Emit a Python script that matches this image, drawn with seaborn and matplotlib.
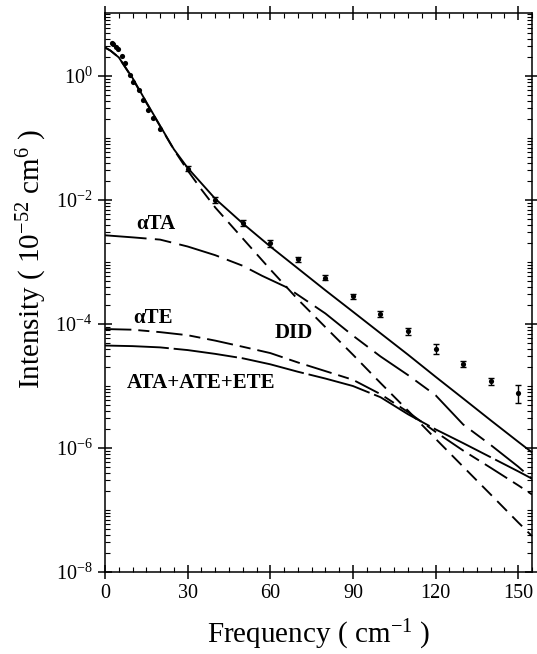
import matplotlib
matplotlib.use("Agg")
import matplotlib.pyplot as plt
import seaborn as sns
from matplotlib.ticker import FixedLocator, NullFormatter, LogFormatterSciNotation

# ---------------- data ----------------
total_x = [0, 2, 5, 10, 15, 20, 25, 30, 40, 50, 60, 70, 80, 90, 100, 110, 120, 130, 140, 150, 155]
total_y = [2.9, 2.57, 2.0, 0.93, 0.38, 0.158, 0.066, 0.033, 0.0105, 4.2e-3, 1.78e-3, 7.9e-4,
           3.5e-4, 1.58e-4, 7.1e-5, 3.2e-5, 1.41e-5, 6.3e-6, 2.8e-6, 1.26e-6, 8.5e-7]

did_x = [0, 2, 5, 10, 15, 20, 25, 30, 35, 40, 50, 60, 70, 80, 90, 100, 110, 120, 130, 140, 150, 155]
did_y = [2.88, 2.57, 2.0, 0.91, 0.37, 0.155, 0.065, 0.030, 0.0148, 7.6e-3, 2.4e-3, 7.6e-4,
         2.5e-4, 8.9e-5, 3.2e-5, 1.12e-5, 4.0e-6, 1.41e-6, 5.0e-7, 1.78e-7, 6.3e-8, 3.8e-8]

ata_alpha_x = [0, 10, 20, 30, 40, 50, 57, 66, 80, 90, 100, 110, 120, 130, 140, 150, 155]
ata_alpha_y = [2.7e-3, 2.5e-3, 2.3e-3, 1.78e-3, 1.29e-3, 8.7e-4, 6.0e-4, 3.9e-4, 1.48e-4,
               6.5e-5, 3.0e-5, 1.5e-5, 7.1e-6, 2.4e-6, 1.12e-6, 5.0e-7, 3.2e-7]

ate_alpha_x = [0, 10, 20, 30, 40, 50, 60, 70, 80, 90, 100, 110, 120, 130, 140, 150, 155]
ate_alpha_y = [8.3e-5, 8.1e-5, 7.4e-5, 6.6e-5, 5.4e-5, 4.3e-5, 3.4e-5, 2.4e-5, 1.74e-5,
               1.26e-5, 7.4e-6, 3.8e-6, 1.82e-6, 9.1e-7, 4.8e-7, 2.5e-7, 1.78e-7]

sum_x = [0, 10, 20, 30, 40, 50, 60, 70, 80, 90, 100, 110, 120, 130, 140, 150, 155]
sum_y = [4.5e-5, 4.4e-5, 4.2e-5, 3.8e-5, 3.3e-5, 2.8e-5, 2.24e-5, 1.7e-5, 1.32e-5, 1.0e-5,
         6.6e-6, 3.5e-6, 2.0e-6, 1.2e-6, 7.1e-7, 4.2e-7, 3.2e-7]

exp_low_x = [2.4, 3.0, 4.0, 4.9, 6.0, 7.3, 9.1, 10.3, 12.4, 13.9, 15.7, 17.5, 20.0]
exp_low_y = [3.47, 3.31, 2.95, 2.69, 2.09, 1.64, 1.04, 0.81, 0.59, 0.41, 0.28, 0.21, 0.14]

exp_x = [30, 40, 50, 60, 70, 80, 90, 100, 110, 120, 130, 140, 150]
exp_y = [3.2e-2, 1.0e-2, 4.3e-3, 2.0e-3, 1.1e-3, 5.6e-4, 2.8e-4, 1.45e-4, 7.6e-5, 4.0e-5,
         2.3e-5, 1.2e-5, 7.8e-6]
exp_err = [3e-3, 1.0e-3, 5e-4, 2.3e-4, 1.0e-4, 5e-5, 2.6e-5, 1.6e-5, 9e-6, 7e-6, 2.7e-6,
           1.6e-6, 2.4e-6]

x_ticks = [0, 30, 60, 90, 120, 150]
y_major = [1e-8, 1e-6, 1e-4, 1e-2, 1e0]

# ---------------- style ----------------
sns.set_style("ticks")
plt.rcParams["font.family"] = ["Liberation Serif", "DejaVu Serif"]
plt.rcParams["mathtext.fontset"] = "custom"
plt.rcParams["mathtext.rm"] = "Liberation Serif"
plt.rcParams["mathtext.it"] = "Liberation Serif:italic"
plt.rcParams["mathtext.bf"] = "Liberation Serif:bold"
plt.rcParams["axes.unicode_minus"] = False
plt.rcParams["lines.scale_dashes"] = False
plt.rcParams["axes.linewidth"] = 1.1
for k in ["text.color", "axes.labelcolor", "xtick.color", "ytick.color", "axes.edgecolor"]:
    plt.rcParams[k] = "black"

fig = plt.figure(figsize=(5.37, 6.54), dpi=100)
ax = fig.add_axes([105 / 537, 1 - 572 / 654, (532 - 105) / 537, (572 - 13) / 654])

lw = 1.35
sns.lineplot(x=total_x, y=total_y, ax=ax, color="black", lw=lw, estimator=None, sort=False)
l = sns.lineplot(x=did_x, y=did_y, ax=ax, color="black", lw=lw, estimator=None,
                 sort=False).lines[-1]
l.set_dashes([10, 5.5])
l = sns.lineplot(x=ata_alpha_x, y=ata_alpha_y, ax=ax, color="black", lw=lw, estimator=None,
                 sort=False).lines[-1]
l.set_dashes([30, 6, 12, 6])
l = sns.lineplot(x=ate_alpha_x, y=ate_alpha_y, ax=ax, color="black", lw=lw, estimator=None,
                 sort=False).lines[-1]
l.set_dashes([19, 5, 8, 5])
l = sns.lineplot(x=sum_x, y=sum_y, ax=ax, color="black", lw=lw, estimator=None,
                 sort=False).lines[-1]
l.set_dashes([46, 3.5])

sns.scatterplot(x=exp_low_x, y=exp_low_y, ax=ax, color="black", s=14, edgecolor="black",
                linewidth=0, zorder=5)
sns.scatterplot(x=exp_x, y=exp_y, ax=ax, color="black", s=14, edgecolor="black",
                linewidth=0, zorder=5)
ax.errorbar(exp_x, exp_y, yerr=exp_err, fmt="none", ecolor="black", elinewidth=1.0,
            capsize=2.0, capthick=1.0, zorder=5)

ax.set_yscale("log")
ax.set_xlim(0, 155)
ax.set_ylim(1e-8, 10.4)

ax.xaxis.set_major_locator(FixedLocator(x_ticks))
ax.xaxis.set_minor_locator(FixedLocator([v for v in range(0, 156, 5) if v % 30]))
ax.yaxis.set_major_locator(FixedLocator(y_major))
minor = []
for e in range(-8, 2):
    for s in range(1, 10):
        v = s * 10.0 ** e
        if v not in y_major and v < 10.4:
            minor.append(v)
ax.yaxis.set_minor_locator(FixedLocator(minor))
ax.yaxis.set_major_formatter(LogFormatterSciNotation())
ax.yaxis.set_minor_formatter(NullFormatter())

ax.tick_params(which="major", direction="inout", length=10, width=1.1, labelsize=14.5,
               pad=4, top=True, right=True, color="black", labelcolor="black")
ax.tick_params(which="minor", direction="in", length=3.5, width=0.8, top=True, right=True)
ax.tick_params(axis="both", which="both", labeltop=False, labelright=False)

for sp in ax.spines.values():
    sp.set_visible(True)
    sp.set_color("black")

ax.set_xlabel("Frequency ( cm$^{-1}$ )", fontsize=21, labelpad=10, color="black")
ax.set_ylabel("Intensity ( 10$^{-52}$ cm$^{6}$ )", fontsize=21, color="black",
              va="center", ha="center")
ax.yaxis.set_label_coords(-0.171, 0.56)

ax.text(18.5, 4.07e-3, "αTA", fontsize=15, fontweight="bold", ha="center", va="center")
ax.text(17.4, 1.26e-4, "αTE", fontsize=15, fontweight="bold", ha="center", va="center")
ax.text(68.6, 7.2e-5, "DID", fontsize=15, fontweight="bold", ha="center", va="center")
ax.text(8.0, 1.12e-5, "ATA+ATE+ETE", fontsize=15, fontweight="bold", ha="left", va="center")

fig.savefig("out.png", dpi=100)
